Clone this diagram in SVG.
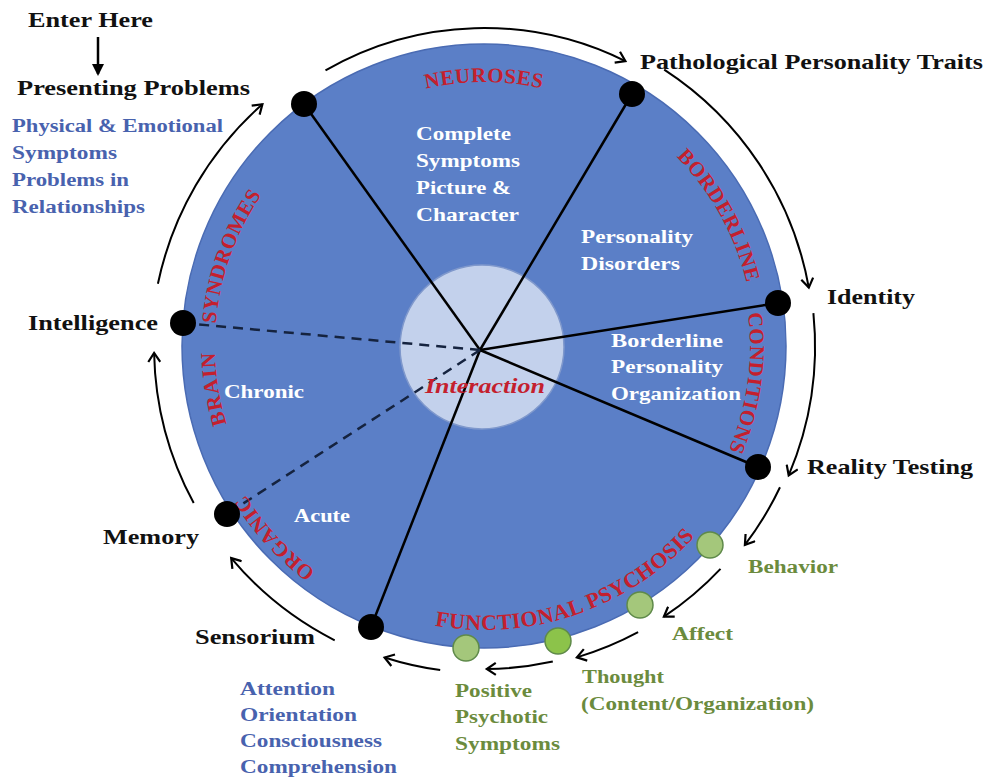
<svg xmlns="http://www.w3.org/2000/svg" width="989" height="779" viewBox="0 0 989 779">
<defs>
<style>
text{font-family:"Liberation Serif","Times New Roman",serif;font-weight:bold}
.k{fill:#111;font-size:21px}
.b{fill:#4862ae;font-size:18px}
.g{fill:#6b8b3d;font-size:18px}
.w{fill:#fff;font-size:19px}
.r{fill:#c41f2e;font-size:21px;letter-spacing:0.5px}
.spoke{stroke:#000;stroke-width:2.5;fill:none}
.dash{stroke:#15233f;stroke-width:2.5;stroke-dasharray:10 7;fill:none}
.arc{stroke:#000;stroke-width:2;fill:none;marker-end:url(#ah)}
.dot{fill:#000}
.gdot{fill:#a4c77b;stroke:#5f8a4a;stroke-width:1.5}
</style>
<marker id="ah" markerWidth="14" markerHeight="14" refX="11" refY="7" orient="auto" markerUnits="userSpaceOnUse"><path d="M2,1 L11,7 L2,13" fill="none" stroke="#000" stroke-width="2.2"/></marker>
<marker id="tri" markerWidth="12" markerHeight="12" refX="10" refY="6" orient="auto" markerUnits="userSpaceOnUse"><path d="M0,0 L12,6 L0,12 Z" fill="#000"/></marker>
<path id="p-neu" d="M314.3,143.8 A264,264 0 0 1 653.7,143.8"/>
<path id="p-bor" d="M657.6,139.2 A270,270 0 0 1 751.4,308.4"/>
<path id="p-con" d="M744.2,290.7 A266,266 0 0 1 718.9,470.9"/>
<path id="p-brain" d="M251,480.5 A269,269 0 0 1 293.8,155.8"/>
<path id="p-org" d="M365.2,600.7 A281,281 0 0 1 219.9,442.1"/>
<path id="p-fun" d="M382.2,611.1 A284,284 0 0 0 727.4,492.3"/>
</defs>
<rect width="989" height="779" fill="#fff"/>

<g id="wheel">
<circle cx="484" cy="346" r="302" fill="#5b7fc7" stroke="#4a6bb3" stroke-width="1.5"/>
<circle cx="482" cy="347" r="82" fill="#c3d1ec" stroke="#7f98cc" stroke-width="1.5"/>
</g>

<g id="connectors">
<line class="spoke" x1="480" y1="350" x2="304" y2="104"/>
<line class="spoke" x1="480" y1="350" x2="632" y2="94"/>
<line class="spoke" x1="480" y1="350" x2="778" y2="303"/>
<line class="spoke" x1="480" y1="350" x2="758" y2="467"/>
<line class="spoke" x1="480" y1="350" x2="371" y2="627"/>
<line class="dash" x1="480" y1="350" x2="183" y2="323"/>
<line class="dash" x1="480" y1="350" x2="227" y2="514"/>
<path class="arc" d="M325.5,70.3 A318,318 0 0 1 625.4,61.2"/>
<path class="arc" d="M664.2,69.6 A330,330 0 0 1 808.8,287.6"/>
<path class="arc" d="M813.4,313.1 A331,331 0 0 1 788.7,475.3"/>
<path class="arc" d="M780,487.2 A328,328 0 0 1 744.9,544.8"/>
<path class="arc" d="M720.5,568.9 A325,325 0 0 1 663.9,616.7"/>
<path class="arc" d="M638.1,632.2 A325,325 0 0 1 576.9,657.4"/>
<path class="arc" d="M552.8,661.6 A323,323 0 0 1 486.8,669"/>
<path class="arc" d="M440.2,670.1 A327,327 0 0 1 384.6,657.5"/>
<path class="arc" d="M334.7,640.3 A330,330 0 0 1 231.2,558.1"/>
<path class="arc" d="M193.7,503 A330,330 0 0 1 154.1,352.9"/>
<path class="arc" d="M157.9,283.8 A330,330 0 0 1 262.4,104.2"/>
<line x1="98" y1="37" x2="98" y2="74" stroke="#000" stroke-width="2.5" marker-end="url(#tri)"/>
</g>

<g id="regions">
<text class="r"><textPath href="#p-neu" startOffset="50%" text-anchor="middle">NEUROSES</textPath></text>
<text class="r"><textPath href="#p-bor" startOffset="50%" text-anchor="middle">BORDERLINE</textPath></text>
<text class="r"><textPath href="#p-con" startOffset="50%" text-anchor="middle">CONDITIONS</textPath></text>
<text class="r" style="letter-spacing:1.2px"><textPath href="#p-brain" startOffset="28%" text-anchor="middle">BRAIN</textPath></text>
<text class="r"><textPath href="#p-brain" startOffset="66%" text-anchor="middle">SYNDROMES</textPath></text>
<text class="r"><textPath href="#p-org" startOffset="50%" text-anchor="middle">ORGANIC</textPath></text>
<text class="r" style="font-size:22px"><textPath href="#p-fun" startOffset="50%" text-anchor="middle">FUNCTIONAL PSYCHOSIS</textPath></text>
<text x="416" y="140" class="w" textLength="95" lengthAdjust="spacingAndGlyphs">Complete</text>
<text x="416" y="167" class="w" textLength="104" lengthAdjust="spacingAndGlyphs">Symptoms</text>
<text x="416" y="194" class="w" textLength="95" lengthAdjust="spacingAndGlyphs">Picture &amp;</text>
<text x="416" y="221" class="w" textLength="103" lengthAdjust="spacingAndGlyphs">Character</text>
<text x="581" y="243" class="w" textLength="112" lengthAdjust="spacingAndGlyphs">Personality</text>
<text x="581" y="270" class="w" textLength="99" lengthAdjust="spacingAndGlyphs">Disorders</text>
<text x="611" y="347" class="w" textLength="112" lengthAdjust="spacingAndGlyphs">Borderline</text>
<text x="611" y="373" class="w" textLength="112" lengthAdjust="spacingAndGlyphs">Personality</text>
<text x="611" y="400" class="w" textLength="130" lengthAdjust="spacingAndGlyphs">Organization</text>
<text x="224" y="398" class="w" textLength="80" lengthAdjust="spacingAndGlyphs">Chronic</text>
<text x="294" y="522" class="w" textLength="56" lengthAdjust="spacingAndGlyphs">Acute</text>
</g>

<g id="hub">
<text x="425" y="393" style="fill:#c41f2e;font-size:21px;font-style:italic" textLength="120" lengthAdjust="spacingAndGlyphs">Interaction</text>
</g>

<g id="enter">
<text x="28" y="27" class="k" style="font-size:20px" textLength="125" lengthAdjust="spacingAndGlyphs">Enter Here</text>
</g>

<g id="presenting-problems">
<circle class="dot" cx="304" cy="104" r="13"/>
<text x="17" y="95" class="k" style="font-size:22px" textLength="233" lengthAdjust="spacingAndGlyphs">Presenting Problems</text>
<text x="12" y="132" class="b" textLength="211" lengthAdjust="spacingAndGlyphs">Physical &amp; Emotional</text>
<text x="12" y="159" class="b" textLength="105" lengthAdjust="spacingAndGlyphs">Symptoms</text>
<text x="12" y="186" class="b" textLength="117" lengthAdjust="spacingAndGlyphs">Problems in</text>
<text x="12" y="213" class="b" textLength="133" lengthAdjust="spacingAndGlyphs">Relationships</text>
</g>

<g id="pathological-personality-traits">
<circle class="dot" cx="632" cy="94" r="13"/>
<text x="640" y="69" class="k" textLength="343" lengthAdjust="spacingAndGlyphs">Pathological Personality Traits</text>
</g>

<g id="identity">
<circle class="dot" cx="778" cy="303" r="13"/>
<text x="827" y="304" class="k" textLength="88" lengthAdjust="spacingAndGlyphs">Identity</text>
</g>

<g id="reality-testing">
<circle class="dot" cx="758" cy="467" r="13"/>
<text x="807" y="474" class="k" textLength="166" lengthAdjust="spacingAndGlyphs">Reality Testing</text>
</g>

<g id="behavior">
<circle class="gdot" cx="710" cy="545" r="13"/>
<text x="748" y="573" class="g" textLength="90" lengthAdjust="spacingAndGlyphs">Behavior</text>
</g>

<g id="affect">
<circle class="gdot" cx="640" cy="605" r="13"/>
<text x="672" y="640" class="g" textLength="61" lengthAdjust="spacingAndGlyphs">Affect</text>
</g>

<g id="thought">
<circle class="gdot" cx="558" cy="641" r="13" style="fill:#8cc34a"/>
<text x="582" y="683" class="g" textLength="82" lengthAdjust="spacingAndGlyphs">Thought</text>
<text x="581" y="710" class="g" textLength="233" lengthAdjust="spacingAndGlyphs">(Content/Organization)</text>
</g>

<g id="positive-psychotic-symptoms">
<circle class="gdot" cx="466" cy="648" r="13"/>
<text x="455" y="697" class="g" textLength="77" lengthAdjust="spacingAndGlyphs">Positive</text>
<text x="455" y="723" class="g" textLength="93" lengthAdjust="spacingAndGlyphs">Psychotic</text>
<text x="455" y="750" class="g" textLength="105" lengthAdjust="spacingAndGlyphs">Symptoms</text>
</g>

<g id="sensorium">
<circle class="dot" cx="371" cy="627" r="13"/>
<text x="195" y="644" class="k" textLength="120" lengthAdjust="spacingAndGlyphs">Sensorium</text>
<text x="240" y="695" class="b" textLength="95" lengthAdjust="spacingAndGlyphs">Attention</text>
<text x="240" y="721" class="b" textLength="117" lengthAdjust="spacingAndGlyphs">Orientation</text>
<text x="240" y="747" class="b" textLength="142" lengthAdjust="spacingAndGlyphs">Consciousness</text>
<text x="240" y="773" class="b" textLength="157" lengthAdjust="spacingAndGlyphs">Comprehension</text>
</g>

<g id="memory">
<circle class="dot" cx="227" cy="514" r="13"/>
<text x="103" y="544" class="k" textLength="96" lengthAdjust="spacingAndGlyphs">Memory</text>
</g>

<g id="intelligence">
<circle class="dot" cx="183" cy="323" r="13"/>
<text x="28" y="330" class="k" textLength="130" lengthAdjust="spacingAndGlyphs">Intelligence</text>
</g>
</svg>
